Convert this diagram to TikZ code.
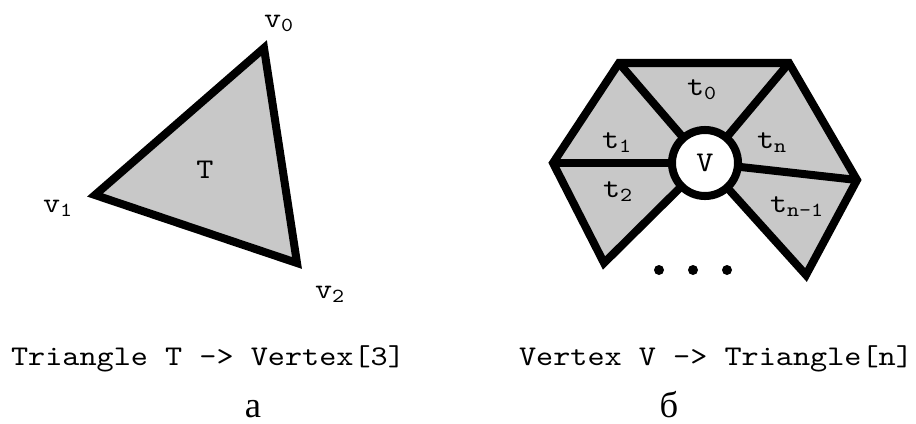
\documentclass[tikz,border=0pt]{standalone}
\usepackage{fontspec}
\setmainfont{Liberation Serif}
\setmonofont[FakeStretch=1.143]{lmmono10-regular.otf}
\usepackage{xcolor}
\usetikzlibrary{positioning}
\definecolor{facegray}{HTML}{C8C8C8}
\tikzset{
  face/.style={fill=facegray},
  edge/.style={draw, line width=5.7pt},
  lbl/.style={
    font=\fontsize{20.3}{24}\selectfont\ttfamily,
    inner sep=0pt, anchor=base
  },
  letter/.style={
    font=\fontsize{26}{30}\selectfont,
    inner sep=0pt, anchor=base
  },
  hub/.style={
    circle, draw, fill=white, line width=5.7pt,
    minimum size=1.65cm, inner sep=0pt,
    font=\fontsize{20.3}{24}\selectfont\ttfamily
  },
}

\begin{document}
\begin{tikzpicture}[x=0.025cm, y=-0.025cm]
  \useasboundingbox (0,0) rectangle (916,423);

  % triangle T
  \coordinate (v0) at (264,48);
  \coordinate (v1) at (95,195);
  \coordinate (v2) at (297,263);
  \draw[edge, face] (v0) -- (v1) -- (v2) -- cycle;
  \node[lbl] (l0) at (279,27) {v\textsubscript{0}};
  \node[lbl] (l1) at (58,212) {v\textsubscript{1}};
  \node[lbl] (l2) at (330,298) {v\textsubscript{2}};
  \node[lbl] (lt) at (205,178) {T};

  % vertex V with its triangles
  \coordinate (vc) at (705,163);
  \coordinate (a) at (619,63);
  \coordinate (b) at (789,63);
  \coordinate (c) at (553,163);
  \coordinate (d) at (857,180);
  \coordinate (e) at (604,263);
  \coordinate (f) at (806,275);
  \draw[edge, face] (c) -- (a) -- (b) -- (d) -- (f) -- (vc) -- (e) -- cycle;
  \draw[edge] (a) -- (vc);
  \draw[edge] (b) -- (vc);
  \draw[edge] (c) -- (vc);
  \draw[edge] (d) -- (vc);
  \node[hub] (V) at (vc) {V};

  \node[lbl] (t0) at (702,95) {t\textsubscript{0}};
  \node[lbl] (t1) at (617,148) {t\textsubscript{1}};
  \node[lbl] (t2) at (618,197) {t\textsubscript{2}};
  \node[lbl] (tn) at (772,148) {t\textsubscript{n}};
  \node[lbl] (tm) at (797,212) {t\textsubscript{n-1}};

  \foreach \dx in {659,693,727}
    \fill (\dx,270) circle[radius=0.125cm];

  % captions
  \node[lbl] (capa) at (208,365) {Triangle T -> Vertex[3]};
  \node[lbl] (capb) at (716,365) {Vertex V -> Triangle[n]};
  \node[letter] (la) at (253,417) {а};
  \node[letter] (lb) at (669,417) {б};
\end{tikzpicture}
\end{document}
